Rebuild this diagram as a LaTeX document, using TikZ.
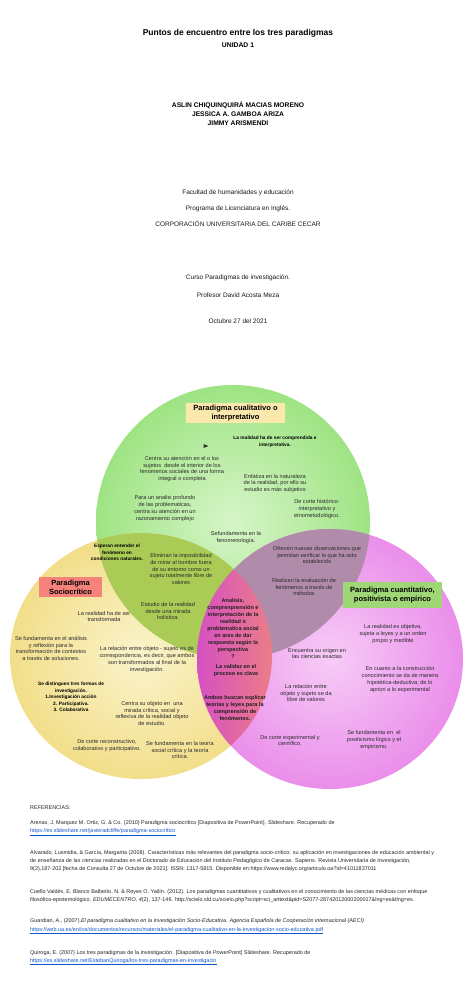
\documentclass[tikz,border=0pt]{standalone}
\usepackage{fontspec}
\setmainfont{Liberation Sans}
\definecolor{gIn}{HTML}{D6F5C8}
\definecolor{gMid}{HTML}{A6E68C}
\definecolor{gOut}{HTML}{5ED03A}
\definecolor{yIn}{HTML}{FBF4CC}
\definecolor{yMid}{HTML}{F2DE8A}
\definecolor{yOut}{HTML}{E2C03A}
\definecolor{mIn}{HTML}{F7CCF7}
\definecolor{mMid}{HTML}{EA8EEA}
\definecolor{mOut}{HTML}{D03AD0}
\definecolor{oliveC}{HTML}{AACB55}
\definecolor{mauveC}{HTML}{B08CAA}
\definecolor{lensL}{HTML}{D650C2}
\definecolor{lensR}{HTML}{EC7E86}
\definecolor{boxTan}{HTML}{FBE8AC}
\definecolor{boxRed}{HTML}{F6827C}
\definecolor{boxGreen}{HTML}{9FD777}
\definecolor{txtc}{HTML}{2B2B2B}
\definecolor{linkc}{HTML}{1155CC}
\pgfdeclareradialshading{gshade}{\pgfpoint{0bp}{0bp}}{color(0bp)=(gIn); color(22bp)=(gMid); color(50bp)=(gOut); color(72bp)=(gOut)}
\pgfdeclareradialshading{yshade}{\pgfpoint{0bp}{0bp}}{color(0bp)=(yIn); color(25bp)=(yMid); color(50bp)=(yOut); color(72bp)=(yOut)}
\pgfdeclareradialshading{mshade}{\pgfpoint{0bp}{0bp}}{color(0bp)=(mIn); color(25bp)=(mMid); color(50bp)=(mOut); color(72bp)=(mOut)}
\begin{document}
\begin{tikzpicture}[x=1pt,y=-1pt,
  vt/.style={align=center, inner sep=0, text=txtc, font=\fontsize{5.6}{6.9}\selectfont},
  vb/.style={align=center, inner sep=0, text=black, font=\fontsize{4.8}{6.5}\selectfont\bfseries},
  vr/.style={align=center, inner sep=0, text=black!88, font=\fontsize{5.5}{7}\selectfont\bfseries},
  lab/.style={align=center, inner sep=0, text=black, font=\fontsize{7.5}{9}\selectfont\bfseries},
  cov/.style={inner sep=0, text=black!90, font=\fontsize{6.5}{8}\selectfont},
  ref/.style={anchor=base west, inner sep=0, text=black!85, font=\fontsize{5.45}{6}\selectfont},
  lnk/.style={ref, text=linkc}]
\fill[white] (0,0) rectangle (474,991);
\useasboundingbox (0,0) rectangle (474,991);

% ---- cover texts
\node[inner sep=0, font=\fontsize{8.5}{10}\selectfont\bfseries] (title) at (238,33) {Puntos de encuentro entre los tres paradigmas};
\node[inner sep=0, font=\fontsize{6.8}{8}\selectfont\bfseries] (unidad) at (238,45) {UNIDAD 1};
\node[inner sep=0, align=center, font=\fontsize{6.7}{9}\selectfont\bfseries] (names) at (238,114)
  {ASLIN CHIQUINQUIRÁ MACIAS MORENO\\JESSICA A. GAMBOA ARIZA\\JIMMY ARISMENDI};
\node[cov] (fac) at (238,193) {Facultad de humanidades y educación};
\node[cov] (prog) at (238,209) {Programa de Licenciatura en Inglés.};
\node[cov] (corp) at (238,224) {CORPORACIÓN UNIVERSITARIA DEL CARIBE CECAR};
\node[cov] (curso) at (238,278) {Curso Paradigmas de investigación.};
\node[cov] (prof) at (238,295) {Profesor David Acosta Meza};
\node[cov] (fecha) at (238,321) {Octubre 27 del 2021};

% ---- circles
\shade[shading=gshade] (233,522) circle[radius=137];
\shade[shading=yshade] (141,656) ellipse[x radius=131, y radius=123];
\shade[shading=mshade] (330,659) ellipse[x radius=133, y radius=130];
\begin{scope}
  \clip (141,656) ellipse[x radius=131, y radius=123];
  \fill[oliveC] (233,522) circle[radius=137];
\end{scope}
\begin{scope}
  \clip (330,659) ellipse[x radius=133, y radius=130];
  \fill[mauveC] (233,522) circle[radius=137];
\end{scope}
\begin{scope}
  \clip (141,656) ellipse[x radius=131, y radius=123];
  \clip (330,659) ellipse[x radius=133, y radius=130];
  \shade[left color=lensL, right color=lensR] (196,525) rectangle (274,792);
\end{scope}

% ---- labels
\node[lab, fill=boxTan, minimum width=99pt, minimum height=20pt] (cual) at (235.5,413) {Paradigma cualitativo o\\interpretativo};
\node[lab, fill=boxRed, minimum width=63pt, minimum height=20pt] (socio) at (70.5,587) {Paradigma\\Sociocrítico};
\node[lab, fill=boxGreen, minimum width=99pt, minimum height=26pt] (cuant) at (392.5,595) {Paradigma cuantitativo,\\positivista o empírico};

% ---- green circle texts
\fill[black!80] (203.5,444) -- (208.5,446) -- (203.5,448) -- cycle;
\node[vb] (g1) at (275,442) {La realidad ha de ser comprendida e\\interpretativa.};
\node[vt] (g2) at (182,469) {Centra su atención en el o los\\sujetos\ \ desde el interior de los\\fenomenos sociales de una forma\\integral o completa};
\node[vt] (g3) at (275,483.5) {Enfatiza en la naturaleza\\de la realidad, por ello su\\estudio es más subjetivo};
\node[vt] (g4) at (165,508.5) {Para un analisi profundo\\de las problematicas,\\centra su atención en un\\razonamiento complejo};
\node[vt] (g5) at (317,509) {De corte histórico-\\interpretativo y\\etnometodológico.};
\node[vt] (g6) at (236,537.5) {Sefundamenta en la\\fenomenología.};

% ---- green/yellow
\node[vb] (gy1) at (117,552.5) {Esperan entender el\\fenómeno en\\condiciones naturales.};
\node[vt] (gy2) at (181,569) {Eliminan la imposibilidad\\de mirar al hombre fuera\\de su entorno como un\\sujeto totalmente libre de\\valores};
\node[vt] (gy3) at (168,611) {Estudio de la realidad\\desde una mirada\\holística.};

% ---- yellow
\node[vt] (y1) at (104,616.5) {La realidad ha de ser\\transformada};
\node[vt] (y2) at (51,648.5) {Se fundamenta en el análisis\\y reflexión para la\\transformación de contextos\\a través de soluciones.};
\node[vt] (y3) at (147,659.5) {La relación entre objeto - sujeto es de\\correspondencia, es decir, que ambos\\son transformados al final de la\\investigación.};
\node[vb] (y4) at (71,697) {Se distinguen tres formas de\\investigación.\\1.Investigación acción\\2. Participativa.\\3. Colaborativa};
\node[vt] (y5) at (152,713.5) {Centra su objeto en\ \ una\\mirada crítica, social y\\reflexiva de la realidad objeto\\de estudio.};
\node[vt] (y6) at (107,745.5) {De corte reconstructivo,\\colaborativo y participativo.};
\node[vt] (y7) at (180,750) {Se fundamenta en la teoría\\social crítica y la teoría\\crítica.};

% ---- yellow/magenta lens
\node[vr] (r1) at (233,628.5) {Analisis,\\comprenprensión e\\interpretación de la\\realidad o\\problematica social\\en aras de dar\\respuesta según la\\perspectiva\\?};
\node[vr] (r2) at (236,670.5) {La validez en el\\proceso es clave};
\node[vr] (r3) at (235,708) {Ambos buscan explicar\\teorias y leyes para la\\comprensión de\\fenómenos.};

% ---- green/magenta
\node[vt] (gm1) at (317,555) {Ofrecen nuevas observaciones que\\permitan verificar lo que ha sido\\establecido};
\node[vt] (gm2) at (304,587) {Realizan la evaluación de\\fenómenos a través de\\métodos};

% ---- magenta
\node[vt] (m1) at (393,634) {La realidad es objetiva,\\sujeta a leyes y a un orden\\propio y medible};
\node[vt] (m2) at (317,653.5) {Encuentra su origen en\\las ciencias exactas};
\node[vt] (m3) at (400,679.5) {En cuanto a la construcción\\conocimiento se da de manera\\hipotética-deductiva; de lo\\apriori a lo experimental};
\node[vt] (m4) at (306,693) {La relación entre\\objeto y sujeto se da\\libre de valores};
\node[vt] (m5) at (290,740.5) {De corte experimental y\\científico.};
\node[vt] (m6) at (374,740) {Se fundamenta en\ \ el\\positivismo lógico y el\\empirismo.};

% ---- references
\node[ref] (rt) at (30,809.5) {REFERENCIAS:};
\node[ref] (r1a) at (30,824.7) {Arenas, J. Marquez M. Ortiz, G. \& Co. (2010) Paradigma sociocrítico [Diapositiva de PowerPoint]. Slideshare. Recuperado de};
\node[lnk] (r1b) at (30,832.2) {\underline{https://es.slideshare.net/javieradcliffe/paradigma-sociocritico}};
\node[ref] (r2a) at (30,854.7) {Alvarado, Lusmidia, \& García, Margarita (2008). Características más relevantes del paradigma socio-crítico: su aplicación en investigaciones de educación ambiental y};
\node[ref] (r2b) at (30,862.6) {de enseñanza de las ciencias realizadas en el Doctorado de Educación del Instituto Pedagógico de Caracas. Sapiens. Revista Universitaria de Investigación,};
\node[ref] (r2c) at (30,870.6) {9(2),187-202.[fecha de Consulta 27 de Octubre de 2021]. ISSN: 1317-5815. Disponible en:https://www.redalyc.org/articulo.oa?id=41011837011};
\node[ref] (r3a) at (30,893.4) {Coello Valdés, E. Blanco Balbeíto, N. \& Reyes O. Yailín. (2012). Los paradigmas cuantitativos y cualitativos en el conocimiento de las ciencias médicas con enfoque};
\node[ref] (r3b) at (30,901) {filosófico-epistemológico. \textit{EDUMECENTRO}, \textit{4}(2), 137-146. http://scielo.sld.cu/scielo.php?script=sci\_arttext\&pid=S2077-28742012000200017\&lng=es\&tlng=es.};
\node[ref] (r4a) at (30,922.7) {Guardian, A., (2007).\textit{El paradigma cualitativo en la investigación Socio-Educativa. Agencia Española de Cooperación internacional (AECI)}};
\node[lnk] (r4b) at (30,931) {\underline{https://web.ua.es/en/ice/documentos/recursos/materiales/el-paradigma-cualitativo-en-la-investigacion-socio-educativa.pdf}};
\node[ref] (r5a) at (30,954.4) {Quiroga, E. (2007) Los tres paradigmas de la investigación. [Diapositiva de PowerPoint] Slideshare. Recuperado de};
\node[lnk] (r5b) at (30,962) {\underline{https://es.slideshare.net/EstebanQuiroga/los-tres-paradigmas-en-investigacin}};
\end{tikzpicture}
\end{document}
